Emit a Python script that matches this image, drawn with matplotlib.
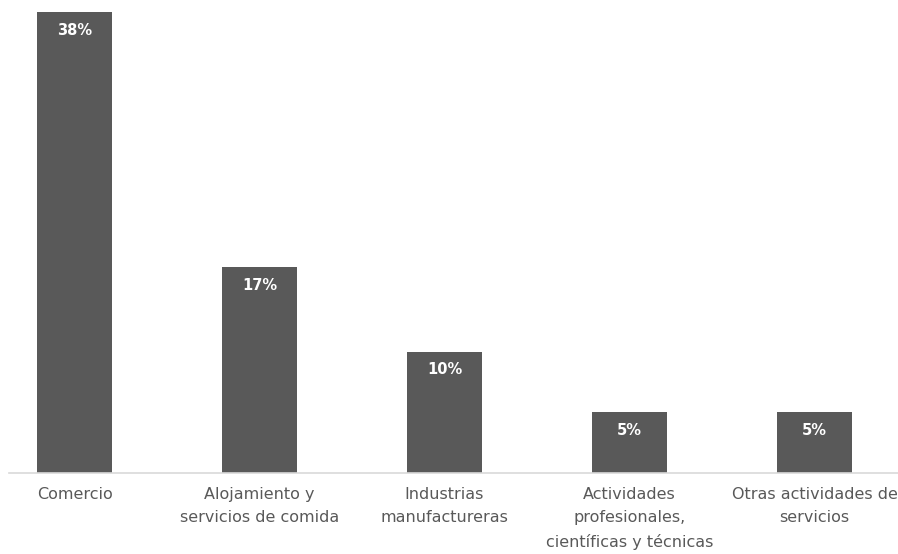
import numpy as np
import matplotlib.pyplot as plt

categories = ['Comercio', 'Alojamiento y\nservicios de comida', 'Industrias\nmanufactureras',
              'Actividades\nprofesionales,\ncientíficas y técnicas', 'Otras actividades de\nservicios']
values = [38, 17, 10, 5, 5]
value_labels = ['38%', '17%', '10%', '5%', '5%']

bar_color = '#595959'
text_color = '#595959'


def main():
    fig = plt.figure(figsize=(8.98, 5.54), dpi=100)
    ax = fig.add_axes([0, 81 / 554, 1, 473 / 554])

    x = np.arange(len(categories))
    bars = ax.bar(x, values, width=0.405, color=bar_color, zorder=2)

    for bar, lab in zip(bars, value_labels):
        ax.text(bar.get_x() + bar.get_width() / 2, bar.get_height() - 1.5, lab,
                ha='center', va='center', color='white', fontsize=10.5, fontweight='bold')

    ax.set_xlim(-74.5 / 185, (898 - 74.5) / 185)
    ax.set_ylim(0, 39.0)

    # baseline starts a little right of the left edge
    ax.plot([(9 - 74.5) / 185, (898 - 74.5) / 185], [0, 0], color='#d9d9d9', lw=1.2,
            zorder=3, clip_on=False)

    for s in ax.spines.values():
        s.set_visible(False)
    ax.set_yticks([])
    ax.set_xticks(x)
    ax.set_xticklabels(categories, fontsize=11.5, color=text_color, linespacing=1.7)
    ax.tick_params(axis='x', length=0, pad=10)

    fig.savefig('out.png', dpi=100)


if __name__ == '__main__':
    main()
